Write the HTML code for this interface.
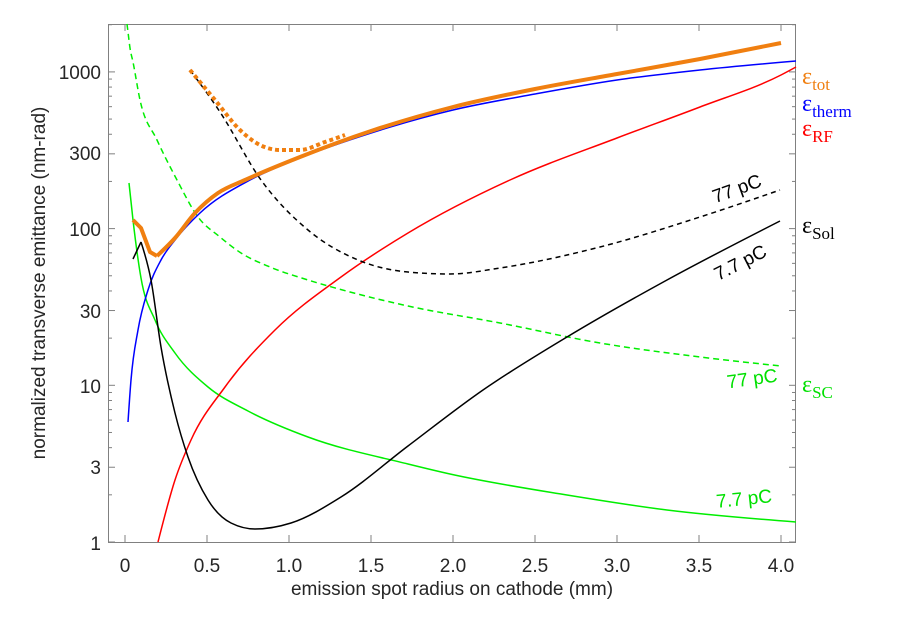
<!DOCTYPE html>
<html><head><meta charset="utf-8"><style>
body{margin:0;background:#fff;}
svg text{font-family:"Liberation Sans",sans-serif;}
.s{font-family:"Liberation Serif",serif;}
</style></head><body>
<svg id="c" width="908" height="622" viewBox="0 0 908 622" xmlns="http://www.w3.org/2000/svg">
<rect width="908" height="622" fill="#fff"/>
<g id="ticks" stroke="#808080" stroke-width="1"></g>
<rect x="108.5" y="24.5" width="687" height="518" fill="none" stroke="#808080" stroke-width="1"/>
<g font-size="19" fill="#262626" text-anchor="end">
<text x="101" y="79">1000</text><text x="101" y="160">300</text><text x="101" y="236">100</text>
<text x="101" y="318">30</text><text x="101" y="393">10</text><text x="101" y="474">3</text><text x="101" y="550">1</text>
</g>
<g font-size="19" fill="#262626" text-anchor="middle">
<text x="125" y="572">0</text><text x="207" y="572">0.5</text><text x="289" y="572">1.0</text><text x="371" y="572">1.5</text>
<text x="453" y="572">2.0</text><text x="535" y="572">2.5</text><text x="617" y="572">3.0</text><text x="699" y="572">3.5</text><text x="781" y="572">4.0</text>
<text x="452" y="595">emission spot radius on cathode (mm)</text>
<text transform="translate(45,283) rotate(-90)">normalized transverse emittance (nm-rad)</text>
</g>
<g fill="none" stroke-linejoin="round" stroke-linecap="butt" id="curves"></g>
<g font-size="19" text-anchor="middle">
<text x="737" y="195" transform="rotate(-20 737 189)" fill="#000">77 pC</text>
<text x="740" y="269" transform="rotate(-27 740 262)" fill="#000">7.7 pC</text>
<text x="752" y="385" transform="rotate(-8 752 378)" fill="#00e000">77 pC</text>
<text x="744" y="505" transform="rotate(-6 744 498)" fill="#00e000">7.7 pC</text>
</g>
<g font-size="24">
<text x="802" y="84" fill="#f07f10" class="s">ɛ<tspan font-size="17" dy="6">tot</tspan></text>
<text x="802" y="111" fill="#0000ff" class="s">ɛ<tspan font-size="17" dy="6">therm</tspan></text>
<text x="802" y="136" fill="#ff0000" class="s">ɛ<tspan font-size="17" dy="6">RF</tspan></text>
<text x="802" y="233" fill="#000" class="s">ɛ<tspan font-size="17" dy="6">Sol</tspan></text>
<text x="802" y="392" fill="#00e000" class="s">ɛ<tspan font-size="17" dy="6">SC</tspan></text>
</g>
</svg>
<script>
function Y(e){return 542-156.7*Math.log10(e);}
var t=document.getElementById("ticks"),h="";
for(var v=0;v<=4.01;v+=0.5){var x=125+164*v;h+='<line x1="'+x+'" y1="542" x2="'+x+'" y2="535"/><line x1="'+x+'" y1="24" x2="'+x+'" y2="31"/>';}
for(var d=0;d<=3;d++)for(var m=1;m<10;m++){var e=m*Math.pow(10,d);if(e>2020)break;var y=Y(e);var L=(m==1||m==3)?7:4;
h+='<line x1="108" y1="'+y+'" x2="'+(108+L)+'" y2="'+y+'"/><line x1="796" y1="'+y+'" x2="'+(796-L)+'" y2="'+y+'"/>';}
t.innerHTML=h;
function mono(p){var n=p.length;if(n<3)return pl(p);var s=[],hh=[],tg=[];
for(var i=0;i<n-1;i++){hh[i]=p[i+1][0]-p[i][0];s[i]=(p[i+1][1]-p[i][1])/hh[i];}
for(var i=1;i<n-1;i++){if(s[i-1]*s[i]<=0){tg[i]=0;continue;}var v=(s[i-1]*hh[i]+s[i]*hh[i-1])/(hh[i-1]+hh[i]);
var sg=v<0?-1:1;tg[i]=sg*Math.min(Math.abs(v),2*Math.abs(s[i-1]),2*Math.abs(s[i]));}
tg[0]=(3*s[0]-tg[1])/2;if(tg[0]*s[0]<0)tg[0]=0;tg[n-1]=(3*s[n-2]-tg[n-2])/2;if(tg[n-1]*s[n-2]<0)tg[n-1]=0;
var o="M"+p[0][0]+","+p[0][1];
for(var i=0;i<n-1;i++){var a=p[i],b=p[i+1],k=hh[i]/3;o+=" C"+(a[0]+k)+","+(a[1]+tg[i]*k)+" "+(b[0]-k)+","+(b[1]-tg[i+1]*k)+" "+b[0]+","+b[1];}
return o;}
function pl(p){return "M"+p.map(function(q){return q[0]+","+q[1]}).join(" L");}
var C=[
["#00ee00",1.5,"6 4",1,[[127,24],[128,32],[130,48],[133,62],[140,100],[157,140],[177,180],[198,217],[220,237],[241,253],[270,267],[308,280],[350,292],[408,306],[500,323],[600,343],[700,357],[781,366]]],
["#00ee00",1.5,"",1,[[129,183],[133,220],[141,278],[155,320],[175,353],[208,387],[248,411],[308,437],[408,464],[450,474],[567,495],[667,510],[796,522]]],
["#ff0000",1.5,"",1,[[158,542],[175,480],[191,440],[225,387],[275,330],[341,277],[408,233],[510,180],[617,138],[700,107],[781,75],[796,67]]],
["#0000ff",1.5,"",1,[[128,422],[131,380],[138,330],[148,290],[161,260],[175,240],[200,213],[250,180],[300,158],[371,133],[453,110],[535,94],[617,80],[700,70],[796,61]]],
["#000",1.5,"5 4",1,[[190,70],[220,112],[261,180],[308,230],[358,260],[408,272],[450,274],[500,268],[600,247],[700,217],[780,190]]],
["#000",1.5,"",0,[[133,259],[141,242]]],
["#000",1.5,"",1,[[141,242],[151,280],[161,347],[175,413],[188,457],[208,500],[231,523],[255,529],[291,523],[341,497],[408,446],[483,390],[567,337],[667,280],[780,221]]],
["#f07f10",4,"4 3",1,[[190,70],[215,100],[240,130],[260,145],[280,150],[300,150],[325,142],[345,135]]],
["#f07f10",4,"",0,[[133,220],[141,228],[150,252],[157,256]]],
["#f07f10",4,"",1,[[157,256],[175,238],[195,213],[218,193],[245,180],[300,157],[371,131],[453,107],[535,89],[617,74],[700,59],[781,43]]]
];
var g=document.getElementById("curves"),o="";
C.forEach(function(c){o+='<path d="'+(c[3]?mono(c[4]):pl(c[4]))+'" stroke="'+c[0]+'" stroke-width="'+c[1]+'"'+(c[2]?' stroke-dasharray="'+c[2]+'"':'')+'/>';});
g.innerHTML=o;
</script>
</body></html>
